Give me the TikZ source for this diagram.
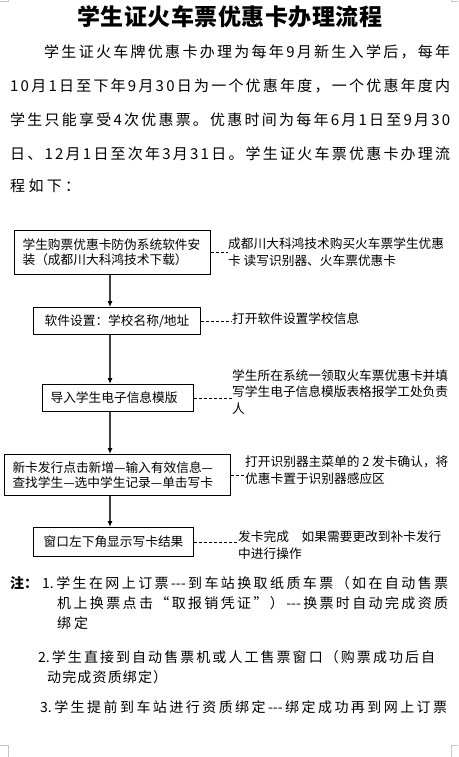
\documentclass[tikz,border=0pt]{standalone}
\usepackage{fontspec}
\setmainfont{Noto Sans CJK SC}[Ligatures=TeXOff]
\usepackage{tikz}
\usetikzlibrary{arrows.meta, positioning, calc}
% una línea repartida a todo el ancho
\ExplSyntaxOn
\NewDocumentCommand{\spreadline}{m m}{\hbox~to~#1{\tl_map_inline:nn {#2} {##1\hfil}\unskip}}
\ExplSyntaxOff

\begin{document}
\begin{tikzpicture}[x=1pt, y=-1pt,
        box/.style={rectangle, draw=black, line width=1.1pt, anchor=north west, inner xsep=8pt, inner ysep=0pt, align=left, font=\fontsize{12.7}{15}\selectfont},
        note/.style={anchor=west, inner sep=0pt, align=left, font=\fontsize{12.7}{16.5}\selectfont},
        para/.style={anchor=west, inner sep=0pt, font=\fontsize{15}{15}\selectfont},
        remark/.style={anchor=west, inner sep=0pt, font=\fontsize{14}{14}\selectfont},
        arrow/.style={-{Latex[length=6pt, width=5pt, color=black]}, line width=1.1pt, draw=black!75},
        link/.style={draw=black, line width=0.9pt, dash pattern=on 3pt off 2pt}
    ]
        \useasboundingbox (0,0) rectangle (458,757);

        % Título y texto
        \node [font=\bfseries\fontsize{23}{23}\selectfont, inner sep=0pt] (title) at (230,17) {\spreadline{305pt}{学生证火车票优惠卡办理流程}};
        \node [para] (p1) at (44,52) {\spreadline{406pt}{学生证火车牌优惠卡办理为每年9月新生入学后，每年}};
        \node [para] (p2) at (10,86) {\spreadline{440pt}{10月1日至下年9月30日为一个优惠年度，一个优惠年度内}};
        \node [para] (p3) at (10,120) {\spreadline{440pt}{学生只能享受4次优惠票。优惠时间为每年6月1日至9月30}};
        \node [para] (p4) at (10,154) {\spreadline{440pt}{日、12月1日至次年3月31日。学生证火车票优惠卡办理流}};
        \node [para] (p5) at (10,186) {\spreadline{70pt}{程如下：}};

        % Pasos del proceso
        \node [box, text width=180pt, minimum height=44pt] (b1) at (14,230) {学生购票优惠卡防伪系统软件安\\装（成都川大科鸿技术下载）};
        \node [box, text width=151pt, minimum height=27pt, align=center] (b2) at (33,307) {软件设置：学校名称/地址};
        \node [box, text width=135pt, minimum height=27pt] (b3) at (42,384) {导入学生电子信息模版};
        \node [box, text width=210pt, minimum height=41pt] (b4) at (4,454) {新卡发行点击新增—输入有效信息—\\查找学生—选中学生记录—单击写卡};
        \node [box, text width=144pt, minimum height=29pt, align=center] (b5) at (33,527) {窗口左下角显示写卡结果};

        % Comentarios a la derecha
        \node [note] (a1) at (228,252) {成都川大科鸿技术购买火车票学生优惠\\卡 读写识别器、火车票优惠卡};
        \node [note] (a2) at (232,319) {打开软件设置学校信息};
        \node [note] (a3) at (232,392) {学生所在系统一领取火车票优惠卡并填\\写学生电子信息模版表格报学工处负责\\人};
        \node [note] (a4) at (245,470) {打开识别器主菜单的 2 发卡确认，将\\优惠卡置于识别器感应区};
        \node [note] (a5) at (238,545) {发卡完成　如果需要更改到补卡发行\\中进行操作};

        % Flechas hacia abajo
        \coordinate (ax) at (110,0);
        \draw [arrow] (b1.south -| ax) -- (b2.north -| ax);
        \draw [arrow] (b2.south -| ax) -- (b3.north -| ax);
        \draw [arrow] (b3.south -| ax) -- (b4.north -| ax);
        \draw [arrow] (b4.south -| ax) -- (b5.north -| ax);

        % Líneas discontinuas
        \draw [link] (b1.east) -- (b1.east -| a1.west);
        \draw [link] (b2.east) -- (b2.east -| a2.west);
        \draw [link] (b3.east) -- (b3.east -| a3.west);
        \draw [link] (b4.east) -- (b4.east -| a4.west);
        \draw [link] (b5.east) -- (b5.east -| a5.west);

        % Notas
        \node [anchor=west, inner sep=0pt, font=\bfseries\fontsize{14}{14}\selectfont] (n0) at (10,583) {注：};
        \node [remark] (n1) at (42,583) {\spreadline{406pt}{{1.}学生在网上订票{---}到车站换取纸质车票（如在自动售票}};
        \node [remark] (n2) at (57,603) {\spreadline{391pt}{机上换票点击“取报销凭证”）{---}换票时自动完成资质}};
        \node [remark] (n3) at (57,623) {\spreadline{31pt}{绑定}};
        \node [remark] (n4) at (38,657) {\spreadline{397pt}{{2.}学生直接到自动售票机或人工售票窗口（购票成功后自}};
        \node [remark] (n5) at (47,677) {\spreadline{120pt}{动完成资质绑定）}};
        \node [remark] (n6) at (40,707) {\spreadline{407pt}{{3.}学生提前到车站进行资质绑定{---}绑定成功再到网上订票}};

        % Marcas de esquina
        \draw [gray!45, line width=0.6pt] (0,1) -- (8,1) -- (8,0);
        \draw [gray!45, line width=0.6pt] (451,0) -- (451,1) -- (458,1);
        \draw [gray!45, line width=0.6pt] (0,745) -- (8,745) -- (8,757);
        \draw [gray!45, line width=0.6pt] (458,745) -- (451,745) -- (451,757);
    \end{tikzpicture}
\end{document}
